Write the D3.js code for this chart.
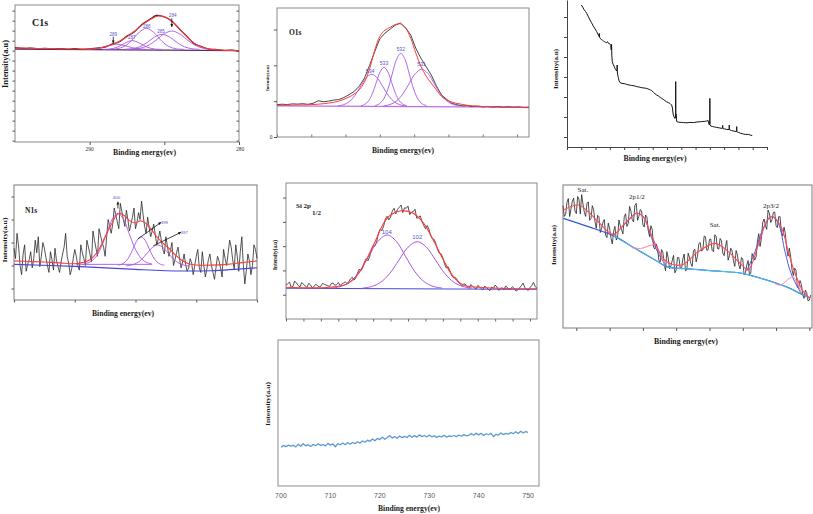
<!DOCTYPE html>
<html><head><meta charset="utf-8">
<script src="https://cdn.jsdelivr.net/npm/d3@7/dist/d3.min.js"></script>
<style>body{margin:0;background:#fff}svg{display:block}</style>
</head><body>
<svg id="c" width="813" height="514"></svg>
<script>
// ================= DATA =================
// --- C1s ---
const c1sEnergy=[295,294.5,294,293.5,293,292.5,292,291.5,291,290.5,290,289.5,289,288.5,288,287.5,287,286.5,286,285.5,285,284.5,284,283.5,283,282.5,282,281.5,281,280.5,280];
const c1sCounts=[68.9,68.3,68.6,68.1,68.4,67.9,68.2,67.7,68.1,67.6,68.0,68.5,69.2,71.4,73.2,77.3,80.5,85.8,89.4,92.4,91.2,88.4,82.6,77.2,71.8,69.7,67.7,67.5,66.8,67.0,66.4];
const c1sFit=[68.6,68.5,68.4,68.3,68.2,68.1,68.0,67.9,67.9,67.8,67.8,68.2,69.5,71.0,73.6,76.8,80.8,85.3,89.0,91.8,91.5,88.0,83.0,76.9,72.2,69.4,68.0,67.3,67.0,66.8,66.6];
const c1sBaseEnergy=[295,280];
const c1sBase=[67.8,66.7];
const c1sComp289E=[290.2,289.7,289.2,288.7,288.2,287.7,287.2,286.7,286.2];
const c1sComp289=[67.66,67.98,68.97,70.55,71.4,70.55,68.97,67.98,67.66];
const c1sComp287E=[289.15,288.65,288.15,287.65,287.15,286.65,286.15,285.65,285.15];
const c1sComp287=[67.63,67.88,69.19,72.12,74.0,72.12,69.19,67.88,67.63];
const c1sComp286E=[288.7,288.2,287.7,287.2,286.7,286.2,285.7,285.2,284.7,284.2,283.7];
const c1sComp286=[67.66,68.05,69.68,73.93,79.92,83.0,79.92,73.93,69.68,68.05,67.66];
const c1sComp285E=[287.65,287.15,286.65,286.15,285.65,285.15,284.65,284.15,283.65,283.15,282.65];
const c1sComp285=[67.68,68.08,69.49,72.64,76.62,78.6,76.62,72.64,69.49,68.08,67.68];
const c1sComp284E=[287.5,287,286.5,286,285.5,285,284.5,284,283.5,283,282.5,282,281.5];
const c1sComp284=[67.65,67.88,68.74,70.94,74.82,79.08,81.0,79.08,74.82,70.94,68.74,67.88,67.65];
const c1sLabels=["289","287","286","285","284"];
const c1sLabelE=[288.42,287.18,286.18,285.22,284.44];
const c1sLabelV=[78.6,76.1,84.2,81.0,92.2];
const c1sYTicks=[1,8.3,15.6,22.9,30.2,37.5,44.8,52.1,59.4,66.7,74,81.3,88.6,95.9];
const c1sXTicks=[290,285,280];
const c1sXTickLabels=["290","280"];

// --- O1s ---
const o1sEnergy=[540,539.7,539.4,539.1,538.8,538.5,538.2,537.9,537.6,537.3,537,536.7,536.4,536.1,535.8,535.5,535.2,534.9,534.6,534.3,534,533.7,533.4,533.1,532.8,532.5,532.2,531.9,531.6,531.3,531,530.7,530.4,530.1,529.8,529.5,529.2,528.9,528.6,528.3,528,527.7,527.4,527.1,526.8,526.5,526.2,525.9,525.6,525.3];
const o1sCounts=[902,915,905,925,918,930,912,940,1010,985,1000,1030,1045,1100,1180,1270,1420,1640,2000,2380,2740,2900,3010,3120,3180,3050,2846,2474,2195,1963,1730,1423,1172,1051,940,900,870,875,850,862,840,852,835,848,830,845,832,840,826,832];
const o1sFit=[884,886,888,890,893,896,900,906,915,928,945,968,1000,1050,1115,1200,1320,1530,1900,2420,2810,2980,3060,3140,3155,3040,2760,2340,1970,1700,1500,1315,1130,1035,975,938,910,885,870,860,852,846,842,838,834,830,826,823,820,818];
const o1sBaseEnergy=[540,525.3];
const o1sBase=[866,830];
const o1sComp534E=[536.46,536.13,535.8,535.47,535.14,534.81,534.48,534.15,533.82,533.49,533.16,532.83,532.5];
const o1sComp534=[870,899,980,1149,1400,1645,1750,1645,1400,1149,980,899,870];
const o1sComp533E=[535.11,534.885,534.66,534.435,534.21,533.985,533.76,533.535,533.31,533.085,532.86,532.635,532.41];
const o1sComp533=[872,908,1007,1212,1518,1817,1945,1817,1518,1212,1007,908,872];
const o1sComp532E=[534.28,534.03,533.78,533.53,533.28,533.03,532.78,532.53,532.28,532.03,531.78,531.53,531.28];
const o1sComp532=[876,925,1060,1339,1755,2162,2335,2162,1755,1339,1060,925,876];
const o1sComp531E=[533.78,533.41,533.04,532.67,532.3,531.93,531.56,531.19,530.82,530.45,530.08,529.71,529.34];
const o1sComp531=[871,905,999,1194,1485,1769,1890,1769,1485,1194,999,905,871];
const o1sLabels=["534","533","532","531"];
const o1sLabelE=[534.57,533.76,532.78,531.56];
const o1sLabelV=[1850,2073,2456,2037];
const o1sYTicks=[0,1000,2000,3000];
const o1sXTicks=[540,538,536,534,532,530,528,526];

// --- Survey ---
const surveyEnergy=[1300,1290,1280,1270,1262,1250,1239,1228,1216,1204,1192,1182,1176,1174,1172,1168,1160,1152,1146,1138,1130,1122,1116,1110,1104,1099,1094,1090,1088,1087,1086,1083,1078,1071,1064,1057,1052,1050,1049,1048,1046,1041,1035,1029,1015,1000,982,965,950,930,912,895,880,860,842,825,815,807,795,785,772,760,748,737,726,715,703,691,680,672,667,662,658,656,650,644,641,640,639,638,637,632,620,600,586,560,540,516,490,460,440,422,412,408,404,401,400,399,394,380,366,352,330,313,311,310,309,307,295,282,266,265,264,263,262,247,230,214,213,212,211,209,201,185,166,150,131,118,103];
const surveyCounts=[66000,65000,63600,62700,61800,60100,58500,57100,55500,54100,52700,51200,50300,51800,49900,49300,48800,48400,48000,47700,47300,47200,47600,46800,46700,46500,45800,43500,46300,44000,40500,37700,36500,35500,34300,33500,33000,33400,36000,33000,31500,29800,28000,27200,26800,26700,26300,26000,25800,25600,25200,25000,24700,24500,24300,23800,23500,23200,22300,21700,21000,20500,19800,19300,18800,18200,17600,17200,16800,16200,16000,14500,12000,11000,10000,9300,9800,10500,27700,9500,11500,7700,7400,7300,7200,7100,7300,7200,7500,7700,7800,8000,8200,7000,6000,6500,19300,6200,5500,5200,5000,4800,4500,4300,4600,5800,4400,4200,4000,3800,3700,4000,6000,3900,3600,3200,2900,2700,2900,5200,2800,2500,2300,1900,1500,1300,1300,1000,700];
const surveyXTicks=[1400,1300,1200,1100,1000,900,800,700,600,500,400,300,200,100,0];
const surveyYTicks=[0,10000,20000,30000,40000,50000,60000];

// --- N1s ---
const n1sEnergy=[408,407.9,407.8,407.7,407.6,407.5,407.4,407.3,407.2,407.1,
407,406.9,406.8,406.7,406.6,406.5,406.4,406.3,406.2,406.1,
406,405.9,405.8,405.7,405.6,405.5,405.4,405.3,405.2,405.1,
405,404.9,404.8,404.7,404.6,404.5,404.4,404.3,404.2,404.1,
404,403.9,403.8,403.7,403.6,403.5,403.4,403.3,403.2,403.1,
403,402.9,402.8,402.7,402.6,402.5,402.4,402.3,402.2,402.1,
402,401.9,401.8,401.7,401.6,401.5,401.4,401.3,401.2,401.1,
401,400.9,400.8,400.7,400.6,400.5,400.4,400.3,400.2,400.1,
400,399.9,399.8,399.7,399.6,399.5,399.4,399.3,399.2,399.1,
399,398.9,398.8,398.7,398.6,398.5,398.4,398.3,398.2,398.1,
398,397.9,397.8,397.7,397.6,397.5,397.4,397.3,397.2,397.1,
397,396.9,396.8,396.7,396.6,396.5,396.4,396.3,396.2,396.1,
396,395.9,395.8,395.7,395.6,395.5,395.4,395.3,395.2,395.1,
395,394.9,394.8,394.7,394.6,394.5,394.4,394.3,394.2,394.1,
394,393.9,393.8,393.7,393.6,393.5,393.4,393.3,393.2,393.1,
393,392.9,392.8,392.7,392.6,392.5,392.4,392.3,392.2,392.1,392];
const n1sCounts=[45,36,58,47,30,22,40,48,25,31,
35,42,28,36,52,41,55,29,38,50,
45,37,30,24,42,35,26,45,34,29,
24,33,40,46,58,38,32,22,27,36,
44,38,30,26,48,41,36,30,52,46,
40,33,60,52,45,38,62,56,50,46,
38,55,70,64,58,66,80,74,68,62,
84,77,70,64,78,70,60,66,72,80,
62,68,76,70,86,74,64,58,72,63,
55,60,66,57,48,53,60,52,44,40,
55,47,38,43,50,30,35,41,46,36,
28,33,40,31,25,28,36,32,22,30,
38,44,28,24,42,30,20,27,35,40,
30,24,18,28,38,34,28,20,44,36,
30,41,52,46,35,27,48,38,25,42,
55,30,14,26,40,34,22,30,48,44,36];
const n1sFitE=[408,407,406,405,404,403.5,403,402.5,402,401.5,401.2,401,400.7,400.4,400,399.7,399.4,399,398.6,398.2,397.8,397.4,397,396.5,396,395,394,393,392];
const n1sFit=[34,33.5,33,32.3,31.5,32.5,35,42,55,68,74.5,75.3,73,69,67,68.8,67.5,62,55,49.5,45,39.5,35,31.5,30.4,30.3,31,32.5,34];
const n1sBaseE=[408,404,400,397,395,392];
const n1sBase=[31,29.2,26.6,25.2,25.5,28];
const n1sComp400E=[403.38,403.01,402.64,402.27,401.9,401.53,401.16,400.79,400.42,400.05,399.68,399.31,398.94];
const n1sComp400=[31.5,32.9,37.0,45.4,57.9,70.2,75.4,70.2,57.9,45.4,37.0,32.9,31.5];
const n1sComp399E=[401.16,400.905,400.65,400.395,400.14,399.885,399.63,399.375,399.12,398.865,398.61,398.355,398.1];
const n1sComp399=[30.3,31.1,33.4,38.1,45.2,52.1,55.0,52.1,45.2,38.1,33.4,31.1,30.3];
const n1sComp397E=[400.64,400.29,399.94,399.59,399.24,398.89,398.54,398.19,397.84,397.49,397.14,396.79,396.44];
const n1sComp397=[29.7,30.3,32.0,35.4,40.6,45.6,47.8,45.6,40.6,35.4,32.0,30.3,29.7];
const n1sLabels=["400","399","397"];
const n1sLabelE=[401.25,398.1,396.79];
const n1sLabelV=[88.7,67.8,59.1];
const n1sYTicks=[10,30,50,70,90];
const n1sXTicks=[408,404,400,396,392];

// --- Si 2p ---
const siEnergy=[110,109.9,109.8,109.7,109.6,109.5,109.4,109.3,109.2,109.1,
109,108.9,108.8,108.7,108.6,108.5,108.4,108.3,108.2,108.1,
108,107.9,107.8,107.7,107.6,107.5,107.4,107.3,107.2,107.1,
107,106.9,106.8,106.7,106.6,106.5,106.4,106.3,106.2,106.1,
106,105.9,105.8,105.7,105.6,105.5,105.4,105.3,105.2,105.1,
105,104.9,104.8,104.7,104.6,104.5,104.4,104.3,104.2,104.1,
104,103.9,103.8,103.7,103.6,103.5,103.4,103.3,103.2,103.1,
103,102.9,102.8,102.7,102.6,102.5,102.4,102.3,102.2,102.1,
102,101.9,101.8,101.7,101.6,101.5,101.4,101.3,101.2,101.1,
101,100.9,100.8,100.7,100.6,100.5,100.4,100.3,100.2,100.1,
100,99.9,99.8,99.7,99.6,99.5,99.4,99.3,99.2,99.1,
99,98.9,98.8,98.7,98.6,98.5,98.4,98.3,98.2,98.1,
98,97.9,97.8,97.7,97.6,97.5,97.4,97.3,97.2,97.1,
97,96.9,96.8,96.7,96.6,96.5,96.4,96.3,96.2,96.1,
96,95.9,95.8,95.7,95.6];
const siCounts=[1400,1450,1520,1300,1350,1560,1480,1380,1320,1500,
1440,1360,1300,1470,1410,1290,1330,1430,1380,1320,
1350,1470,1430,1400,1370,1340,1460,1480,1390,1410,
1500,1380,1440,1480,1530,1460,1540,1650,1720,1600,
1690,1880,2050,1980,2120,2350,2480,2400,2560,2850,
3020,3000,3180,3520,3700,3640,3820,4120,4230,4080,
4200,4450,4560,4330,4520,4600,4690,4380,4580,4560,
4650,4300,4400,4420,4520,4150,4180,4250,4020,3850,
3720,3850,3700,3430,3300,3280,3100,2850,2700,2680,
2520,2260,2100,2150,2000,1800,1700,1720,1640,1510,
1440,1370,1450,1420,1330,1260,1420,1350,1290,1230,
1380,1330,1250,1200,1350,1300,1220,1170,1310,1260,
1400,1320,1180,1230,1290,1200,1360,1300,1210,1260,
1330,1240,1150,1200,1280,1370,1480,1300,1220,1180,
1300,1380,1510,1330,1260];
const siFitE=[110,107.5,106.5,105.9,105.4,104.8,104.4,104,103.4,102.7,102.1,101.55,100.97,100.4,99.83,98.87,96.96,95.6];
const siFit=[1305,1305,1441,1812,2430,3322,3941,4283,4460,4353,3941,3253,2430,1742,1400,1305,1248,1248];
const siBaseE=[110,95.6];
const siBase=[1264,1223];
const siComp104E=[107.35,106.825,106.3,105.775,105.25,104.725,104.2,103.675,103.15,102.625,102.1,101.575,101.05];
const siComp104=[1275,1347,1549,1968,2590,3200,3460,3200,2590,1968,1549,1347,1275];
const siComp102E=[105.62,105.095,104.57,104.045,103.52,102.995,102.47,101.945,101.42,100.895,100.37,99.845,99.32];
const siComp102=[1271,1335,1512,1878,2424,2958,3185,2958,2424,1878,1512,1335,1271];
const siLabels=["104","102"];
const siLabelE=[104.22,102.47];
const siLabelV=[3570,3364];
const siYTicks=[1000,2000,3000,4000,5000];
const siXTicks=[110,109,108,107,106,105,104,103,102,101,100,99,98,97,96];

// --- Cu 2p ---
const cuEnergy=[962,961.8,961.6,961.4,961.2,961,960.8,960.6,960.4,960.2,
960,959.8,959.6,959.4,959.2,959,958.8,958.6,958.4,958.2,
958,957.8,957.6,957.4,957.2,957,956.8,956.6,956.4,956.2,
956,955.8,955.6,955.4,955.2,955,954.8,954.6,954.4,954.2,
954,953.8,953.6,953.4,953.2,953,952.8,952.6,952.4,952.2,
952,951.8,951.6,951.4,951.2,951,950.8,950.6,950.4,950.2,
950,949.8,949.6,949.4,949.2,949,948.8,948.6,948.4,948.2,
948,947.8,947.6,947.4,947.2,947,946.8,946.6,946.4,946.2,
946,945.8,945.6,945.4,945.2,945,944.8,944.6,944.4,944.2,
944,943.8,943.6,943.4,943.2,943,942.8,942.6,942.4,942.2,
942,941.8,941.6,941.4,941.2,941,940.8,940.6,940.4,940.2,
940,939.8,939.6,939.4,939.2,939,938.8,938.6,938.4,938.2,
938,937.8,937.6,937.4,937.2,937,936.8,936.6,936.4,936.2,
936,935.8,935.6,935.4,935.2,935,934.8,934.6,934.4,934.2,
934,933.8,933.6,933.4,933.2,933,932.8,932.6,932.4,932.2,
932,931.8,931.6,931.4,931.2,931,930.8,930.6,930.4,930.2,
930,929.8,929.6,929.4,929.2,929,928.8,928.6,928.4,928.2,
928,927.8,927.6,927.4,927.2,927,926.8,926.6,926.4,926.2,
926,925.8,925.6,925.4,925.2,925,924.8];
const cuCounts=[85.5,78.0,79.5,88.0,90.5,77.9,83.3,88.6,90.8,81.9,
80.0,92.0,90.0,79.7,93.3,86.7,81.0,78.0,87.0,88.2,
75.3,76.4,85.5,82.6,74.6,69.7,78.8,77.8,66.8,69.8,
73.8,75.9,65.0,63.2,73.3,69.7,63.0,58.8,67.5,71.0,
61.5,63.5,75.5,71.7,68.8,65.8,77.8,79.9,71.0,73.0,
85.0,81.8,75.6,74.2,85.8,87.1,75.3,78.1,82.8,82.0,
72.2,70.6,79.0,77.7,68.3,63.9,71.5,69.0,56.5,55.2,
58.8,56.2,47.5,46.2,54.8,52.8,44.8,40.1,53.4,49.0,
41.5,43.3,47.0,50.8,38.6,40.5,49.3,49.2,42.1,41.2,
48.3,51.7,40.0,40.7,52.3,49.2,45.0,43.0,54.0,55.1,
46.2,50.1,59.0,59.9,53.8,54.5,64.2,63.8,54.3,54.7,
62.0,62.2,54.3,53.3,65.2,63.9,55.6,55.1,62.6,61.0,
52.3,50.6,56.9,61.2,47.4,50.6,55.8,53.9,47.0,43.1,
54.2,51.2,44.2,41.3,49.3,48.3,37.3,38.6,43.8,47.2,
37.5,38.3,52.0,49.8,47.5,49.7,60.8,65.9,57.0,62.9,
73.8,76.2,71.5,69.0,82.5,80.2,73.8,75.8,80.8,81.2,
71.5,70.2,77.8,77.9,67.0,64.3,70.5,66.0,55.5,50.2,
55.8,49.7,40.5,36.7,41.8,40.2,28.5,28.4,33.2,30.5,
23.8,20.7,26.5,24.8,19.0,19.5,23.0];
const cuFitE=[961.95,959.7,958.2,956.7,954.45,952.69,950.93,949.94,948.93,947.69,946.43,944.17,941.68,939.17,937.17,935.16,934.17,932.67,931.17,930.41,929.15,928.16,927.15,925.91,924.9];
const cuFit=[82.5,86.0,81.3,74.3,65.5,73.2,80.2,77.8,67.3,54.5,46.4,44.1,53.4,59.2,53.4,44.1,40.6,58.0,76.7,77.8,69.7,53.4,38.3,25.4,20.8];
const cuBgE=[961.95,958.2,954.45,951.19,948.18,946.43,943.18,939.17,935.16,933.16,930.66,928.16,926.15,924.9];
const cuBg=[76.7,70.9,64.6,55.7,47.6,42.9,41.3,39.9,38.3,35.9,32.4,28.2,23.6,20.8];
const cuComp1E=[954.45,952.69,950.93,949.94,948.68,947.69,946.43];
const cuComp1=[64.6,72.5,80.2,77.8,62.7,52.2,42.9];
const cuShake1E=[951.68,950.18,949.19,948.18,947.43,946.68];
const cuShake1=[56.2,55.7,57.3,58.0,52.2,44.1];
const cuComp2E=[934.41,933.16,931.92,930.66,929.66,928.66,927.66,926.15];
const cuComp2=[39.9,53.4,69.7,77.8,73.2,53.4,37.1,23.6];
const cuShake2E=[930.4,929.6,928.8,928.0,927.4,926.8,926.2];
const cuShake2=[32.0,30.0,31.5,34.8,35.5,31.0,24.5];
const cuLabels=["Sat.","2p1/2","Sat.","2p3/2"];
const cuLabelE=[959.0,950.9,939.17,930.76];
const cuLabelV=[96.5,91.6,72.0,85.3];
const cuXTicks=[960,955,950,945,940,935,930,925];

// --- 700-750 eV region ---
const feEnergy=[700,700.5,701,701.5,702,702.5,703,703.5,704,704.5,705,705.5,706,706.5,707,707.5,708,708.5,709,709.5,710,710.5,711,711.5,712,712.5,713,713.5,714,714.5,715,715.5,716,716.5,717,717.5,718,718.5,719,719.5,720,720.5,721,721.5,722,722.5,723,723.5,724,724.5,725,725.5,726,726.5,727,727.5,728,728.5,729,729.5,730,730.5,731,731.5,732,732.5,733,733.5,734,734.5,735,735.5,736,736.5,737,737.5,738,738.5,739,739.5,740,740.5,741,741.5,742,742.5,743,743.5,744,744.5,745,745.5,746,746.5,747,747.5,748,748.5,749,749.5,750];
const feCounts=[26.5,27.8,27.0,28.0,27.3,27.9,26.8,28.6,27.2,29.0,27.5,28.3,27.1,28.5,27.6,28.9,27.8,28.4,27.5,29.2,28.0,28.8,26.9,29.0,28.2,29.4,28.3,29.6,28.7,29.8,29.0,30.3,29.4,30.8,30.0,31.4,30.6,32.2,31.0,32.6,31.8,33.4,32.0,33.2,34.6,32.8,33.9,32.7,34.3,33.1,34.0,33.2,34.8,33.4,34.5,33.5,35.0,33.8,34.6,33.6,34.9,33.7,34.4,33.3,34.2,33.6,34.7,33.5,34.3,33.9,34.6,33.8,34.9,34.1,35.2,34.3,34.7,36.0,34.8,36.2,35.0,36.1,34.6,35.8,35.1,36.0,33.8,35.4,34.9,36.3,35.2,36.0,35.5,36.7,35.8,37.2,36.0,37.5,36.4,37.3,36.8];
const feXTicks=[700,710,720,730,740,750];

// ================= DRAWING =================
const svg=d3.select("#c");
svg.append("rect").attr("width",813).attr("height",514).attr("fill","#fff");
const SERIF='"Liberation Serif","Times New Roman",serif';
const SANS='"Liberation Sans",Arial,sans-serif';
const RED="#ff3b3b", PURPLE="#a855e6", LBLUE="#5656d0", BLACK="#1e1e1e";

function makePanel(o){
  const x=d3.scaleLinear().domain(o.xd).range([o.x0,o.x1]);
  const y=d3.scaleLinear().domain(o.yd).range([o.y1,o.y0]);
  const g=svg.append("g");
  return {x,y,g,o};
}
function drawLine(p,xs,ys,color,w,curve){
  p.g.append("path").datum(d3.zip(xs,ys))
    .attr("fill","none").attr("stroke",color).attr("stroke-width",w).attr("stroke-linejoin","round")
    .attr("d",d3.line().x(d=>p.x(d[0])).y(d=>p.y(d[1])).curve(curve||d3.curveLinear));
}
function frame(p,color){
  const o=p.o;
  p.g.append("rect").attr("x",o.x0).attr("y",o.y0).attr("width",o.x1-o.x0).attr("height",o.y1-o.y0)
    .attr("fill","none").attr("stroke",color||"#888").attr("stroke-width",1);
}
function axisL(p,vals,size,color,keepDomain){
  const a=p.g.append("g").attr("transform",`translate(${p.o.x0},0)`)
    .call(d3.axisLeft(p.y).tickValues(vals).tickSize(size).tickSizeOuter(0).tickFormat(""));
  if(!keepDomain) a.select(".domain").remove(); else a.select(".domain").attr("stroke",color);
  a.selectAll("line").attr("stroke",color||"#555");
}
function axisR(p,vals,size,color){
  const a=p.g.append("g").attr("transform",`translate(${p.o.x1},0)`)
    .call(d3.axisRight(p.y).tickValues(vals).tickSize(size).tickFormat(""));
  a.select(".domain").remove(); a.selectAll("line").attr("stroke",color||"#555");
}
function axisB(p,vals,size,color,keepDomain){
  const a=p.g.append("g").attr("transform",`translate(0,${p.o.y1})`)
    .call(d3.axisBottom(p.x).tickValues(vals).tickSize(size).tickSizeOuter(0).tickFormat(""));
  if(!keepDomain) a.select(".domain").remove(); else a.select(".domain").attr("stroke",color);
  a.selectAll("line").attr("stroke",color||"#555");
}
function ylabel(x,y,len,fs){
  svg.append("text").attr("transform",`translate(${x},${y}) rotate(-90)`)
    .attr("text-anchor","middle").attr("dominant-baseline","central")
    .attr("font-family",SERIF).attr("font-weight","bold").attr("font-size",fs).attr("fill","#1a1a1a")
    .attr("textLength",len).attr("lengthAdjust","spacingAndGlyphs").text("Intensity(a.u)");
}
function xlabel(x,y,len,fs){
  svg.append("text").attr("x",x).attr("y",y)
    .attr("text-anchor","middle").attr("dominant-baseline","central")
    .attr("font-family",SERIF).attr("font-weight","bold").attr("font-size",fs).attr("fill","#1a1a1a")
    .attr("textLength",len).attr("lengthAdjust","spacingAndGlyphs").text("Binding energy(ev)");
}
function txt(x,y,s,fs,opts){
  opts=opts||{};
  return svg.append("text").attr("x",x).attr("y",y).attr("font-family",opts.family||SERIF)
    .attr("font-weight",opts.weight||"normal").attr("font-size",fs).attr("fill",opts.fill||"#1a1a1a")
    .attr("text-anchor",opts.anchor||"start").attr("dominant-baseline",opts.baseline||"alphabetic").text(s);
}
function compLabels(p,labels,es,vs,fs,color){
  labels.forEach((t,i)=>txt(p.x(es[i]),p.y(vs[i]),t,fs,{family:SANS,fill:color||LBLUE,anchor:"middle",baseline:"central"}));
}
function arrow(p,e1,v1,e2,v2,color){
  const x1=p.x(e1),y1=p.y(v1),x2=p.x(e2),y2=p.y(v2);
  p.g.append("line").attr("x1",x1).attr("y1",y1).attr("x2",x2).attr("y2",y2).attr("stroke",color).attr("stroke-width",0.8);
  const a=Math.atan2(y2-y1,x2-x1),L=3.2;
  const pts=[[x2,y2],[x2-L*Math.cos(a-0.45),y2-L*Math.sin(a-0.45)],[x2-L*Math.cos(a+0.45),y2-L*Math.sin(a+0.45)]];
  p.g.append("path").attr("d","M"+pts.map(q=>q.join(",")).join("L")+"Z").attr("fill",color);
}
const smooth=d3.curveCatmullRom.alpha(0.5);

// ---------- Panel: C1s ----------
const pC=makePanel({x0:15,x1:239,y0:5,y1:142,xd:[295,280],yd:[0,100]});
frame(pC,"#8a8a8a");
axisL(pC,c1sYTicks,2.5,"#555");
axisR(pC,c1sYTicks,-2.5,"#555");
axisB(pC,c1sXTicks,3,"#555");
drawLine(pC,c1sBaseEnergy,c1sBase,"#5a2a6a",1.4);
drawLine(pC,c1sEnergy,c1sCounts,BLACK,1.2,smooth);
[[c1sComp289E,c1sComp289],[c1sComp287E,c1sComp287],[c1sComp286E,c1sComp286],[c1sComp285E,c1sComp285],[c1sComp284E,c1sComp284]]
  .forEach(c=>drawLine(pC,c[0],c[1],PURPLE,0.9,smooth));
drawLine(pC,c1sEnergy,c1sFit,RED,1.1,smooth);
compLabels(pC,c1sLabels,c1sLabelE,c1sLabelV,4.6);
arrow(pC,288.42,76.9,288.42,72.0,"#111");
arrow(pC,284.5,90.3,284.5,84.0,"#111");
txt(32,25.5,"C1s",10,{weight:"bold"});
txt(pC.x(290),149,c1sXTickLabels[0],5.5,{anchor:"middle",baseline:"central",fill:"#333"});
txt(pC.x(280)+1,149,c1sXTickLabels[1],5.5,{anchor:"middle",baseline:"central",fill:"#333"});
ylabel(5.5,64,48,7.5);
xlabel(144.5,152.5,63,7.8);

// ---------- Panel: O1s ----------
const pO=makePanel({x0:277,x1:529,y0:8,y1:137,xd:[540,525.3],yd:[0,3600]});
frame(pO,"#8a8a8a");
axisL(pO,o1sYTicks,3,"#555");
axisB(pO,o1sXTicks,-2.5,"#777");
drawLine(pO,o1sBaseEnergy,o1sBase,"#c06ee8",1.2);
drawLine(pO,o1sEnergy,o1sCounts,"#333",0.9);
[[o1sComp534E,o1sComp534],[o1sComp533E,o1sComp533],[o1sComp532E,o1sComp532],[o1sComp531E,o1sComp531]]
  .forEach(c=>drawLine(pO,c[0],c[1],PURPLE,0.9,smooth));
drawLine(pO,o1sEnergy,o1sFit,RED,1.0,smooth);
compLabels(pO,o1sLabels,o1sLabelE,o1sLabelV,5.2);
txt(289,35,"O1s",7.5,{weight:"bold"});
txt(271,137,"0",5.5,{anchor:"middle",baseline:"central",fill:"#333"});
ylabel(267,78,26,5);
xlabel(403,150,62,7.8);

// ---------- Panel: survey ----------
const pS=makePanel({x0:567,x1:767,y0:0,y1:147,xd:[1400,0],yd:[-5000,68500]});
axisL(pS,surveyYTicks,3,"#444",true);
axisB(pS,surveyXTicks,3,"#444",true);
drawLine(pS,surveyEnergy,surveyCounts,"#151515",1.0);
ylabel(555,69,40,6.5);
xlabel(655,158,63,7.8);

// ---------- Panel: N1s ----------
const pN=makePanel({x0:14,x1:257,y0:185,y1:300,xd:[408,392],yd:[0,100]});
frame(pN,"#7a7a7a");
axisL(pN,n1sYTicks,2.5,"#555");
axisB(pN,n1sXTicks,2.5,"#555");
drawLine(pN,n1sEnergy,n1sCounts,"#2a2a2a",0.8);
drawLine(pN,n1sBaseE,n1sBase,"#4646d8",1.1,smooth);
[[n1sComp400E,n1sComp400],[n1sComp399E,n1sComp399],[n1sComp397E,n1sComp397]]
  .forEach(c=>drawLine(pN,c[0],c[1],PURPLE,0.9,smooth));
drawLine(pN,[403.9,398.9],[31,31],PURPLE,0.9);
drawLine(pN,n1sFitE,n1sFit,RED,1.1,smooth);
compLabels(pN,n1sLabels,n1sLabelE,n1sLabelV,4.4);
arrow(pN,401.16,79.5,401.16,85.5,"#111");
arrow(pN,399.85,53.0,398.31,67.6,"#111");
arrow(pN,398.82,47.2,397.0,58.9,"#111");
txt(25,213,"N1s",7.5,{weight:"bold"});
ylabel(5,240,45,7);
xlabel(123,313,62,7.8);

// ---------- Panel: Si 2p ----------
const pSi=makePanel({x0:286,x1:537,y0:183,y1:319,xd:[110,95.6],yd:[0,5600]});
frame(pSi,"#8a8a8a");
axisL(pSi,siYTicks,3,"#555");
axisB(pSi,siXTicks,2.5,"#666");
drawLine(pSi,siEnergy,siCounts,"#262626",0.8);
drawLine(pSi,siBaseE,siBase,"#4a4ad8",1.1);
[[siComp104E,siComp104],[siComp102E,siComp102]].forEach(c=>drawLine(pSi,c[0],c[1],PURPLE,1.0,smooth));
drawLine(pSi,siFitE,siFit,RED,1.1,smooth);
compLabels(pSi,siLabels,siLabelE,siLabelV,6);
txt(296,208,"Si 2p",7,{weight:"bold"});
txt(312,215,"1/2",7,{weight:"bold"});
ylabel(275,255,30,5.5);

// ---------- Panel: Cu 2p ----------
const pCu=makePanel({x0:563,x1:812,y0:185,y1:328,xd:[962,924.6],yd:[0,100]});
frame(pCu,"#7a7a7a");
axisB(pCu,cuXTicks,3,"#555");
drawLine(pCu,cuEnergy,cuCounts,"#222",0.8);
drawLine(pCu,cuBgE,cuBg,"#3356d6",1.2,smooth);
drawLine(pCu,cuBgE.slice(2),cuBg.slice(2),"#45c8ea",1.0,smooth);
drawLine(pCu,cuComp1E,cuComp1,"#4a5ee0",1.0,smooth);
drawLine(pCu,cuComp2E,cuComp2,"#4a5ee0",1.0,smooth);
drawLine(pCu,cuShake1E,cuShake1,"#ff7fa6",1.0,smooth);
drawLine(pCu,cuShake2E,cuShake2,"#ff7fa6",1.0,smooth);
drawLine(pCu,cuFitE,cuFit,"#ff4a5a",1.1,smooth);
cuLabels.forEach((t,i)=>txt(pCu.x(cuLabelE[i]),pCu.y(cuLabelV[i]),t,7,{anchor:"middle",baseline:"central"}));
ylabel(553,245,40,6.5);
xlabel(686,341,64,7.8);

// ---------- Panel: 700-750 eV ----------
const pF=makePanel({x0:278,x1:539,y0:340,y1:486,xd:[699.4,752.2],yd:[0,100]});
frame(pF,"#8c8c8c");
drawLine(pF,feEnergy,feCounts,"#5b9bd5",1.3);
feXTicks.forEach(v=>txt(pF.x(v),495,String(v),7,{family:SANS,anchor:"middle",baseline:"central",fill:"#595959"}));
ylabel(268,404,44,7);
xlabel(409,508,62,7.8);
</script>
</body></html>
